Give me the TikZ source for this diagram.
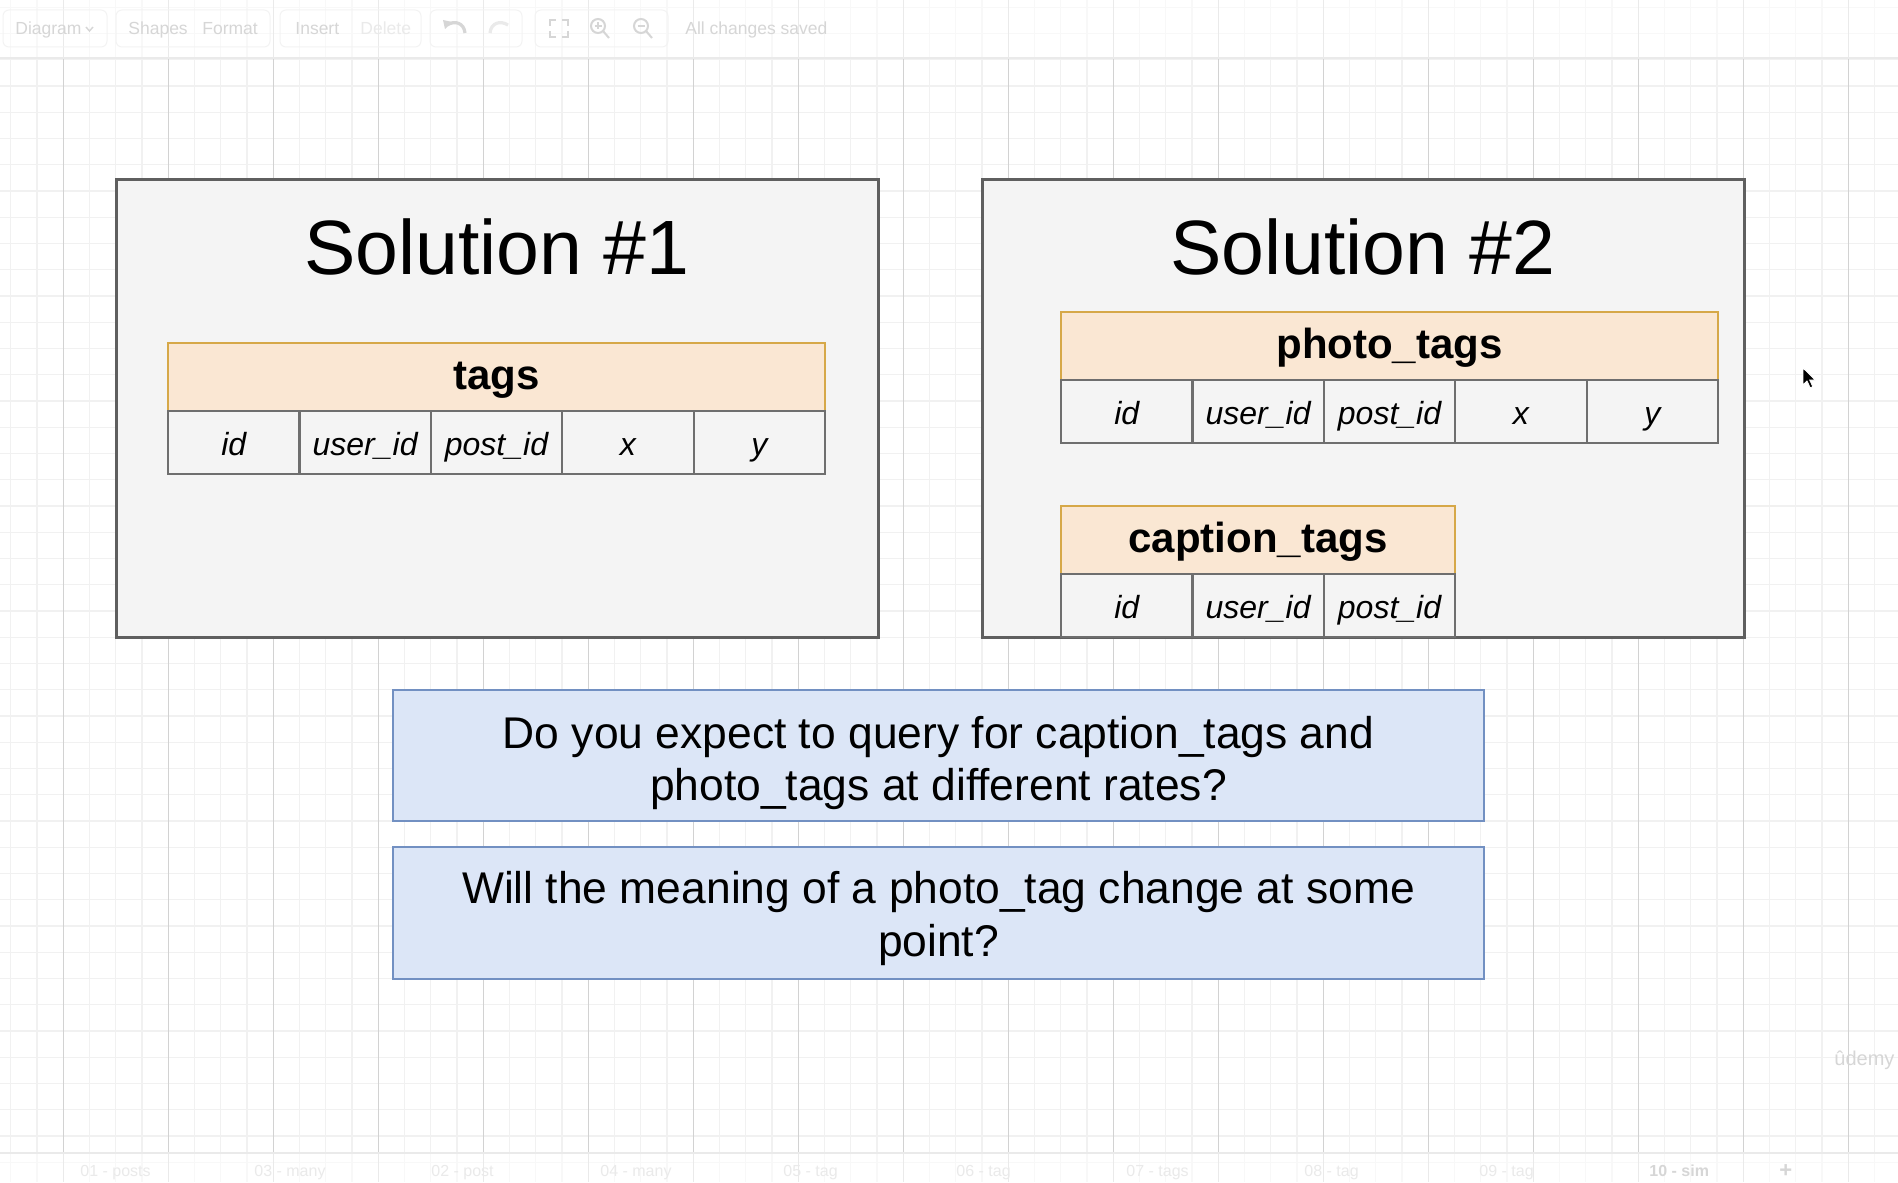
\documentclass[tikz,border=0pt]{standalone}
\usepackage{fontspec}
\setmainfont{Liberation Sans}
\definecolor{boxfill}{HTML}{F4F4F4}
\definecolor{boxline}{HTML}{5F5F5F}
\definecolor{cellline}{HTML}{6E6E6E}
\definecolor{hdrfill}{HTML}{FAE7D3}
\definecolor{hdrline}{HTML}{D6A848}
\definecolor{qfill}{HTML}{DCE6F7}
\definecolor{qline}{HTML}{7290C2}
\definecolor{gridminor}{HTML}{F1F1F1}
\definecolor{gridmajor}{HTML}{D2D2D2}
\definecolor{uifaint}{HTML}{D6D6D6}
\definecolor{uifainter}{HTML}{EAEAEA}
\definecolor{uiedge}{HTML}{F3F3F3}
\begin{document}
\begin{tikzpicture}[x=0.5pt,y=-0.5pt,
  minorline/.style={draw=gridminor,line width=0.6pt},
  majorline/.style={draw=gridmajor,line width=0.6pt},
  solbox/.style={draw=boxline,fill=boxfill,line width=1.5pt,inner sep=0pt,minimum width=381pt,minimum height=228.5pt},
  soltitle/.style={anchor=base,inner sep=0pt,font=\fontsize{38.5}{46}\selectfont},
  hdr/.style={draw=hdrline,fill=hdrfill,line width=1.1pt,inner sep=0pt,minimum height=34pt,
    font=\fontsize{21}{25}\selectfont\bfseries,text height=14.5pt,text depth=2pt},
  cell/.style={draw=cellline,fill=boxfill,line width=1.1pt,inner sep=0pt,minimum width=65.7pt,minimum height=31.5pt,
    font=\fontsize{16}{19}\selectfont\itshape,text height=14pt,text depth=1pt},
  qbox/.style={draw=qline,fill=qfill,line width=1.2pt,inner sep=0pt,minimum width=545.5pt,minimum height=65.75pt},
  qtext/.style={anchor=base,inner sep=0pt,font=\fontsize{22.2}{26}\selectfont},
  tbtext/.style={anchor=base west,inner sep=0pt,text=uifaint,font=\fontsize{8.75}{10}\selectfont},
  tabtext/.style={anchor=base west,inner sep=0pt,text=uifainter,font=\fontsize{8}{10}\selectfont},
  tbgroup/.style={draw=uiedge,line width=0.5pt,rounded corners=3pt},
  icon/.style={draw=uifaint,line width=1pt}
]
\useasboundingbox (0,0) rectangle (1898,1182);
\clip (0,0) rectangle (1898,1182);
\fill[white] (0,0) rectangle (1898,1182);
% background grid
\foreach \i in {0,...,72} \draw[minorline] ({10.8+26.25*\i},0) -- ++(0,1182);
\foreach \i in {0,...,45} \draw[minorline] (0,{7.25+26.25*\i}) -- ++(1898,0);
\foreach \i in {0,...,17} \draw[majorline] ({63.3+105*\i},0) -- ++(0,1182);

% toolbar (faint)
\fill[white,opacity=0.55] (0,0) rectangle (1898,58);
\draw[draw=uifainter,line width=0.8pt] (0,58) -- (1898,58);
\draw[tbgroup] (3,10) rectangle (107,47);
\draw[tbgroup] (116,10) rectangle (270,47);
\draw[tbgroup] (280,10) rectangle (421,47);
\draw[tbgroup] (430,10) rectangle (522,47);
\draw[tbgroup] (535,10) rectangle (668,47);
\node[tbtext] (tbdiagram) at (15,35) {Diagram};
\draw[icon,line width=0.7pt] (86,27) -- (89.5,31) -- (93,27);
\node[tbtext] (tbshapes) at (128,35) {Shapes};
\node[tbtext] (tbformat) at (202,35) {Format};
\node[tbtext] (tbinsert) at (295,35) {Insert};
\node[tbtext,text=uifainter] (tbdelete) at (360,35) {Delete};
% undo / redo
\draw[icon,line width=1.6pt] (447,25) .. controls (455,20) and (464,23) .. (465,33);
\fill[uifaint] (443,20) -- (452,22) -- (445,29) -- cycle;
\draw[draw=uifainter,line width=1.6pt] (508,25) .. controls (500,20) and (491,23) .. (490,33);
% fullscreen
\draw[icon] (550,26) -- (550,20) -- (556,20);
\draw[icon] (562,20) -- (568,20) -- (568,26);
\draw[icon] (568,31) -- (568,37) -- (562,37);
\draw[icon] (556,37) -- (550,37) -- (550,31);
% zoom in / out
\draw[icon] (598,26) circle[radius=7];
\draw[icon] (603,31) -- (609,38);
\draw[icon,line width=0.7pt] (594.5,26) -- (601.5,26) (598,22.5) -- (598,29.5);
\draw[icon] (641,26) circle[radius=7];
\draw[icon] (646,31) -- (652,38);
\draw[icon,line width=0.7pt] (637.5,26) -- (644.5,26);
\node[tbtext] (tbsaved) at (685,35) {All changes saved};

% bottom tabs (faint)
\fill[white,opacity=0.55] (0,1152) rectangle (1898,1182);
\draw[draw=uifainter,line width=0.8pt] (0,1153) -- (1898,1153);
\node[tabtext] (tab1) at (80,1176) {01 - posts};
\node[tabtext] (tab2) at (254,1176) {03 - many};
\node[tabtext] (tab3) at (431,1176) {02 - post};
\node[tabtext] (tab4) at (600,1176) {04 - many};
\node[tabtext] (tab5) at (783,1176) {05 - tag};
\node[tabtext] (tab6) at (956,1176) {06 - tag};
\node[tabtext] (tab7) at (1126,1176) {07 - tags};
\node[tabtext] (tab8) at (1304,1176) {08 - tag};
\node[tabtext] (tab9) at (1479,1176) {09 - tag};
\node[tabtext,text=uifaint,font=\fontsize{8}{10}\selectfont\bfseries] (tab10) at (1649,1176) {10 - sim};
\node[tabtext,text=uifaint,font=\fontsize{11}{13}\selectfont\bfseries] (tabplus) at (1779,1177) {+};

% Solution 1
\node[solbox] (sol1) at (497,408.5) {};
\node[soltitle] (sol1title) at (497,274) {Solution \#1};
\node[hdr,minimum width=328.5pt] (tagshdr) at (496.5,377) {tags};
\foreach \t [count=\i from 0] in {id,user\_id,post\_id,x,y}
  \node[cell] (tagsc\i) at ({233.7+131.4*\i},442.5) {\t};

% Solution 2
\node[solbox] (sol2) at (1363,408.5) {};
\node[soltitle] (sol2title) at (1363,274) {Solution \#2};
\node[hdr,minimum width=328.5pt] (photohdr) at (1389.5,346) {photo\_tags};
\foreach \t [count=\i from 0] in {id,user\_id,post\_id,x,y}
  \node[cell] (photoc\i) at ({1126.7+131.4*\i},411.5) {\t};
\node[hdr,minimum width=197.1pt] (caphdr) at (1258.1,540) {caption\_tags};
\foreach \t [count=\i from 0] in {id,user\_id,post\_id}
  \node[cell] (capc\i) at ({1126.7+131.4*\i},605.5) {\t};

% Questions
\node[qbox] (q1) at (938.5,755.5) {};
\node[qtext] (q1a) at (938.5,748) {Do you expect to query for caption\_tags and};
\node[qtext] (q1b) at (938.5,800.5) {photo\_tags at different rates?};
\node[qbox] (q2) at (938.5,913) {};
\node[qtext] (q2a) at (938.5,903.5) {Will the meaning of a photo\_tag change at some};
\node[qtext] (q2b) at (938.5,956.5) {point?};

% mouse pointer
\fill[black,draw=white,line width=0.4pt] (1803,368) -- ++(0,17) -- ++(4,-4) -- ++(3.2,6.8) -- ++(2.6,-1.1) -- ++(-3.1,-6.6) -- ++(5.6,0) -- cycle;

% watermark
\node[anchor=base west,inner sep=0pt,text=uifaint,font=\fontsize{10}{12}\selectfont] (wm) at (1834,1065) {ûdemy};
\end{tikzpicture}
\end{document}
